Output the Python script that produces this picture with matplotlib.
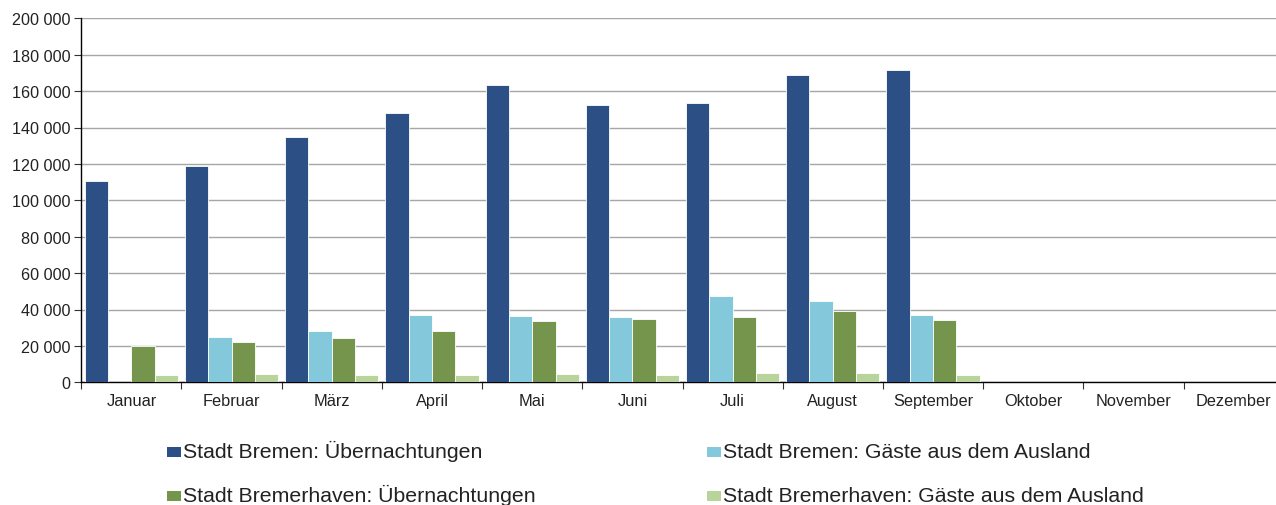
import matplotlib
matplotlib.use("Agg")
import matplotlib.pyplot as plt
from matplotlib.patches import Rectangle
import numpy as np

months = ["Januar", "Februar", "März", "April", "Mai", "Juni", "Juli",
          "August", "September", "Oktober", "November", "Dezember"]
nan = np.nan
bremen_uebernachtungen = [110500, 119100, 134700, 148200, 163200, 152600, 153300,
                          168700, 171500, nan, nan, nan]
bremen_ausland = [nan, 24700, 28000, 36900, 36600, 36000, 47200,
                  44800, 36800, nan, nan, nan]
bremerhaven_uebernachtungen = [19900, 22100, 24200, 28300, 33500, 34600, 35800,
                               39300, 34000, nan, nan, nan]
bremerhaven_ausland = [3900, 4800, 4200, 4000, 4400, 4000, 4900,
                       5300, 4000, nan, nan, nan]

series = [
    ("Stadt Bremen: Übernachtungen", bremen_uebernachtungen, "#2C4F85"),
    ("Stadt Bremen: Gäste aus dem Ausland", bremen_ausland, "#84C9DB"),
    ("Stadt Bremerhaven: Übernachtungen", bremerhaven_uebernachtungen, "#74954B"),
    ("Stadt Bremerhaven: Gäste aus dem Ausland", bremerhaven_ausland, "#B8D49A"),
]

plt.rcParams['font.family'] = ['Liberation Sans', 'DejaVu Sans']

W, H = 1276, 506
fig = plt.figure(figsize=(W / 100, H / 100), dpi=100)
ax = fig.add_axes([81.3 / W, 1 - 383.3 / H, 1202.4 / W, 364 / H])

x = np.arange(len(months))
bw = 0.233
for i, (lab, vals, col) in enumerate(series):
    ax.bar(x - 1.5 * bw + i * bw, vals, width=bw, color=col,
           edgecolor="white", linewidth=0.6, label=lab, zorder=3)

ax.set_xlim(-0.5, len(months) - 0.5)
ax.set_ylim(0, 200000)
yt = np.arange(0, 200001, 20000)
ax.set_yticks(yt)
ax.set_yticklabels([f"{v:,}".replace(",", " ") for v in yt])
ax.yaxis.grid(True, color="#A6A6A6", linewidth=1.0, zorder=0)
ax.set_axisbelow(True)

ax.set_xticks(np.arange(-0.5, len(months) + 0.5, 1.0))
ax.set_xticklabels([])
ax.set_xticks(x, minor=True)
ax.set_xticklabels(months, minor=True)
ax.tick_params(axis="x", which="major", length=5, width=0.8, color="#333333", direction="out")
ax.tick_params(axis="x", which="minor", length=0, pad=8, labelsize=11.8, labelcolor="#222222")
ax.tick_params(axis="y", length=5, width=0.8, color="#333333", pad=3, labelsize=11.6, labelcolor="#222222")

for s in ["top", "right"]:
    ax.spines[s].set_visible(False)
ax.spines["left"].set_color("black")
ax.spines["bottom"].set_color("black")
ax.spines["left"].set_linewidth(1.0)
ax.spines["bottom"].set_linewidth(1.0)

# legend: (square left x, baseline y) in pixels
positions = [(166.7, 458.3), (706.7, 458.3), (166.7, 501.7), (706.7, 501.7)]
sq_w, sq_h, gap = 14.0, 10.0, 2.6
for (lab, vals, col), (px, py) in zip(series, positions):
    fig.add_artist(Rectangle((px / W, 1 - py / H), sq_w / W, sq_h / H,
                             transform=fig.transFigure, facecolor=col,
                             edgecolor="none"))
    fig.text((px + sq_w + gap) / W, 1 - py / H, lab, va="baseline", ha="left",
             fontsize=15.3, color="#222222")

fig.savefig("out.png", dpi=100)
